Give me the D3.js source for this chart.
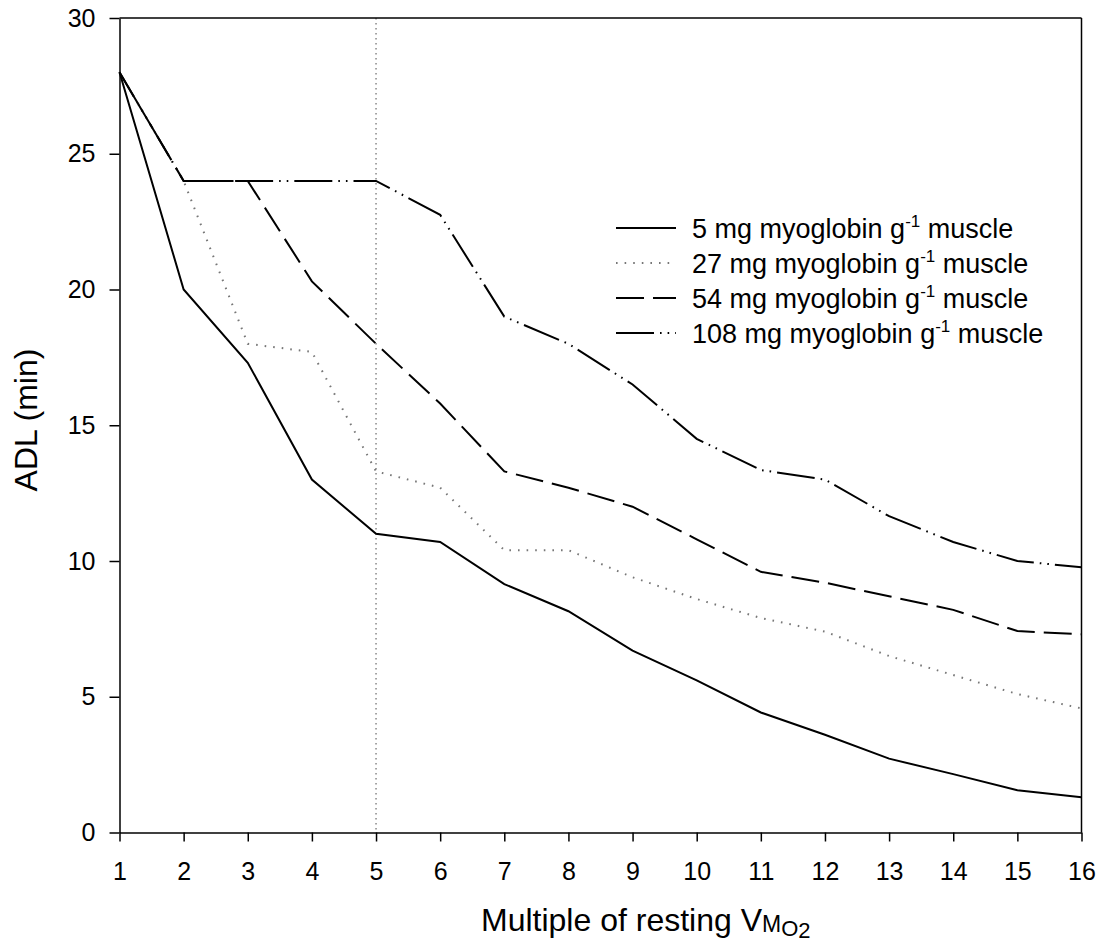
<!DOCTYPE html>
<html>
<head>
<meta charset="utf-8">
<script src="https://cdn.jsdelivr.net/npm/d3@7"></script>
<style>
  body { margin: 0; background: #fff; }
  svg { font-family: 'Liberation Sans', Arial, sans-serif; }
  .axis text { font-size: 25px; fill: #000; }
  .axis line, .axis path { stroke: #000; stroke-width: 1.5; }
  .legend text { font-size: 27px; }
</style>
</head>
<body>
<div id="chart"></div>
<script>
const multiples = [1, 2, 3, 4, 5, 6, 7, 8, 9, 10, 11, 12, 13, 14, 15, 16];
const mb5   = [28, 20, 17.3, 13, 11, 10.7, 9.15, 8.15, 6.7, 5.6, 4.42, 3.6, 2.72, 2.15, 1.56, 1.3];
const mb27  = [28, 24, 18, 17.7, 13.3, 12.7, 10.4, 10.4, 9.4, 8.6, 7.9, 7.4, 6.5, 5.8, 5.1, 4.57];
const mb54  = [28, 24, 24, 20.3, 18, 15.8, 13.3, 12.7, 12, 10.8, 9.6, 9.2, 8.7, 8.2, 7.42, 7.3];
const mb108 = [28, 24, 24, 24, 24, 22.75, 19, 18, 16.5, 14.5, 13.35, 13, 11.65, 10.7, 10, 9.77];
const seriesLabels = ['5', '27', '54', '108'];
const yTicks = [0, 5, 10, 15, 20, 25, 30];
const refLine = 5;

const config = {
  'width': 1103,
  'height': 942,
  'left': 119.5,
  'right': 1081.5,
  'top': 18,
  'bottom': 832.5
}

const series = [
  { label: seriesLabels[0], values: mb5,   dash: null,                  color: '#000', width: 2 },
  { label: seriesLabels[1], values: mb27,  dash: '1.6,7',               color: '#777', width: 2 },
  { label: seriesLabels[2], values: mb54,  dash: '28,9',                color: '#000', width: 2 },
  { label: seriesLabels[3], values: mb108, dash: '38,6,1.6,6,1.6,6',    color: '#000', width: 2 }
];

const svg = d3.select('#chart').append('svg')
  .attr('width', config.width)
  .attr('height', config.height);

const x = d3.scaleLinear()
  .domain([1, 16])
  .range([config.left, config.right]);

const y = d3.scaleLinear()
  .domain([0, 30])
  .range([config.bottom, config.top]);

// dotted reference line at 5x
svg.append('line')
  .attr('x1', x(refLine)).attr('x2', x(refLine))
  .attr('y1', y(30)).attr('y2', y(0))
  .attr('stroke', '#888')
  .attr('stroke-width', 1.5)
  .attr('stroke-dasharray', '1.5,3.5');

const line = d3.line()
  .x((d, i) => x(multiples[i]))
  .y(d => y(d));

svg.selectAll('path.series')
  .data(series)
  .join('path')
    .attr('class', 'series')
    .attr('d', d => line(d.values))
    .attr('fill', 'none')
    .attr('stroke', d => d.color)
    .attr('stroke-width', d => d.width)
    .attr('stroke-dasharray', d => d.dash);

// frame top / right
svg.append('line')
  .attr('x1', config.left).attr('x2', config.right)
  .attr('y1', config.top).attr('y2', config.top)
  .attr('stroke', '#000').attr('stroke-width', 1.5);
svg.append('line')
  .attr('x1', config.right).attr('x2', config.right)
  .attr('y1', config.top).attr('y2', config.bottom)
  .attr('stroke', '#000').attr('stroke-width', 1.5);

const xAxis = d3.axisBottom(x)
  .tickValues(multiples)
  .tickSize(9)
  .tickSizeOuter(0)
  .tickFormat(d3.format('d'));

const yAxis = d3.axisLeft(y)
  .tickValues(yTicks)
  .tickSize(10)
  .tickSizeOuter(0)
  .tickPadding(14);

svg.append('g')
  .attr('class', 'axis x')
  .attr('transform', `translate(0, ${config.bottom})`)
  .call(xAxis)
  .selectAll('.tick text')
    .attr('y', 47.5)
    .attr('dy', 0);

svg.append('g')
  .attr('class', 'axis y')
  .attr('transform', `translate(${config.left}, 0)`)
  .call(yAxis);

svg.selectAll('.axis').attr('font-family', null).attr('font-size', null);

// axis titles
svg.append('text')
  .attr('transform', 'translate(37, 420) rotate(-90)')
  .attr('text-anchor', 'middle')
  .attr('font-size', 32)
  .text('ADL (min)');

const xTitle = svg.append('text')
  .attr('x', 481)
  .attr('y', 931)
  .attr('font-size', 32);
xTitle.append('tspan').text('Multiple of resting V');
xTitle.append('tspan').attr('font-size', 23).attr('dy', 1).text('M');
xTitle.append('tspan').attr('font-size', 22).attr('dy', 4).text('O');
xTitle.append('tspan').attr('font-size', 22).attr('dy', 2).text('2');

// legend
const legend = svg.append('g')
  .attr('class', 'legend')
  .attr('transform', 'translate(616, 228)');

const item = legend.selectAll('g.item')
  .data(series)
  .join('g')
    .attr('class', 'item')
    .attr('transform', (d, i) => `translate(0, ${i * 35})`);

item.append('line')
  .attr('x1', 0).attr('x2', 60)
  .attr('stroke', d => d.color)
  .attr('stroke-width', d => d.width)
  .attr('stroke-dasharray', d => d.dash);

const label = item.append('text')
  .attr('x', 76)
  .attr('y', 9.5);
label.append('tspan').text(d => `${d.label} mg myoglobin g`);
label.append('tspan').attr('font-size', 17).attr('dy', -11).text('-1');
label.append('tspan').attr('dy', 11).text(' muscle');
</script>
</body>
</html>
